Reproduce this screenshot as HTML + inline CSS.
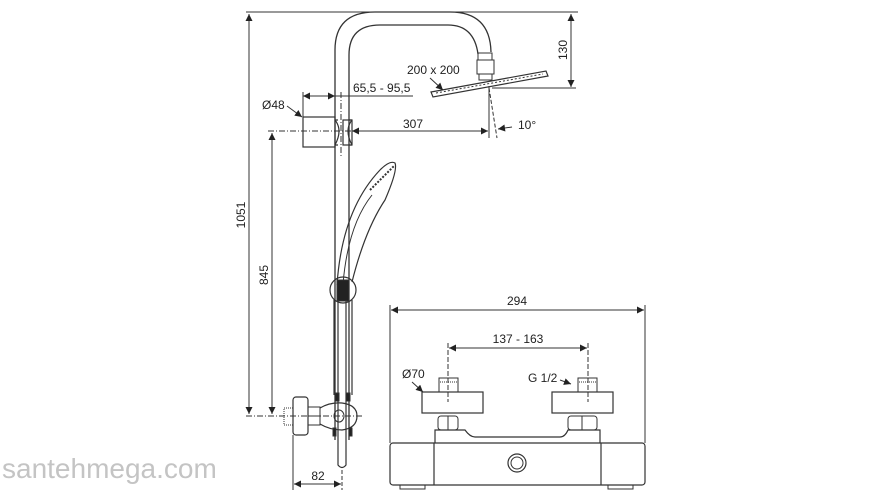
<!DOCTYPE html>
<html><head><meta charset="utf-8"><style>
html,body{margin:0;padding:0;background:#fff;}
svg{display:block;}
text{font-family:"Liberation Sans",sans-serif;fill:#222;}
</style></head><body>
<svg width="880" height="500" viewBox="0 0 880 500" xmlns="http://www.w3.org/2000/svg">
<defs>
<marker id="a" viewBox="0 0 10 10" refX="10" refY="5" markerWidth="9" markerHeight="7" orient="auto-start-reverse" markerUnits="userSpaceOnUse"><path d="M0,0L10,5L0,10z" fill="#222"/></marker>
</defs>
<g fill="none" stroke="#333" stroke-width="1">
<line x1="246" y1="12" x2="578" y2="12"/>
<line x1="249" y1="14" x2="249" y2="414" marker-start="url(#a)" marker-end="url(#a)"/>
<line x1="571" y1="14" x2="571" y2="87" marker-start="url(#a)" marker-end="url(#a)"/>
<line x1="492" y1="88" x2="576" y2="88"/>
<path d="M335,440 V50 Q335,12 375,12 H450 Q490,12 491,52" stroke-width="1.3"/>
<path d="M349,440 V55 Q349,25 380,25 H448 Q474,25 478,54" stroke-width="1.3"/>
<rect x="478" y="53" width="14" height="7"/>
<rect x="477" y="60" width="17" height="14"/>
<rect x="479" y="74" width="13" height="6"/>
<path d="M431,92 L546,71 L548,76 L433,97 Z" stroke-width="1.2"/>
<line x1="436" y1="93" x2="543" y2="74" stroke-dasharray="2 2"/>
<line x1="430" y1="78" x2="443" y2="90" marker-end="url(#a)"/>
<line x1="303" y1="96" x2="413" y2="96"/>
<line x1="303" y1="96" x2="335" y2="96" marker-start="url(#a)" marker-end="url(#a)"/>
<line x1="303" y1="92" x2="303" y2="118"/>
<line x1="287" y1="106" x2="302" y2="117" marker-end="url(#a)"/>
<rect x="303" y="117" width="32" height="30" stroke-width="1.2"/>
<path d="M335,120 Q343,130 335,145 M352,120 Q344,130 352,145 M352,120 H349 M335,120 H338 M335,145 H338 M352,145 H349" stroke-width="1.2"/>
<rect x="343" y="120" width="9" height="25" stroke-width="1.2"/>
<line x1="341" y1="92" x2="341" y2="158" stroke-dasharray="6 2 1 2"/>
<line x1="268" y1="131" x2="352" y2="131" stroke-dasharray="6 2 1 2"/>
<line x1="352" y1="131" x2="488" y2="131" marker-start="url(#a)" marker-end="url(#a)"/>
<line x1="489" y1="86" x2="489" y2="138"/>
<line x1="489" y1="88" x2="497" y2="138" stroke-dasharray="4 2"/>
<line x1="512" y1="127" x2="498" y2="129" marker-end="url(#a)"/>
<line x1="272" y1="133" x2="272" y2="414" marker-start="url(#a)" marker-end="url(#a)"/>
<path d="M337,285 Q342,210 380,170 Q390,160 395,163 Q398,170 385,200 Q365,230 352,282" stroke-width="1.2"/>
<path d="M343,284 Q348,225 372,195" />
<path d="M370,190 L394,166" stroke-dasharray="2 1.5" stroke-width="2"/>
<circle cx="343" cy="290" r="13" stroke-width="1.2"/>
<rect x="337" y="280" width="12" height="21" fill="#222"/>
<path d="M334,300 V395 M352,300 V395 M338,300 V465 Q342,470 346,465 V300" stroke-width="1.2"/>
<rect x="293" y="397" width="15" height="38" rx="3" stroke-width="1.2"/>
<rect x="284" y="408" width="9" height="17" stroke-dasharray="1 1"/>
<rect x="308" y="407" width="12" height="9"/>
<rect x="308" y="416" width="12" height="9"/>
<path d="M320,408 Q330,402 342,403 Q357,405 357,416 Q357,428 342,430 Q330,430 320,424" stroke-width="1.2"/>
<ellipse cx="339" cy="416" rx="5" ry="6"/>
<rect x="335" y="393" width="4" height="8" fill="#222"/>
<rect x="346" y="393" width="4" height="8" fill="#222"/>
<rect x="333" y="428" width="3" height="8" fill="#222"/>
<rect x="349" y="428" width="3" height="8" fill="#222"/>
<line x1="246" y1="416" x2="362" y2="416" stroke-dasharray="6 2 1 2"/>
<line x1="293" y1="435" x2="293" y2="490"/>
<line x1="342" y1="470" x2="342" y2="490" stroke-dasharray="4 2"/>
<line x1="294" y1="484" x2="341" y2="484" marker-start="url(#a)" marker-end="url(#a)"/>
<line x1="390" y1="305" x2="390" y2="443"/>
<line x1="645" y1="305" x2="645" y2="443"/>
<line x1="391" y1="310" x2="644" y2="310" marker-start="url(#a)" marker-end="url(#a)"/>
<line x1="448" y1="343" x2="448" y2="402" stroke-dasharray="5 2"/>
<line x1="588" y1="343" x2="588" y2="402" stroke-dasharray="5 2"/>
<line x1="449" y1="348" x2="587" y2="348" marker-start="url(#a)" marker-end="url(#a)"/>
<line x1="412" y1="382" x2="423" y2="392" marker-end="url(#a)"/>
<line x1="560" y1="380" x2="571" y2="384" marker-end="url(#a)"/>
<rect x="422" y="392" width="61" height="21" stroke-width="1.2"/>
<rect x="552" y="392" width="61" height="21" stroke-width="1.2"/>
<rect x="439" y="378" width="19" height="14"/>
<rect x="578" y="378" width="19" height="14"/>
<line x1="440" y1="382" x2="457" y2="382" stroke-dasharray="1 1"/>
<line x1="579" y1="382" x2="596" y2="382" stroke-dasharray="1 1"/>
<rect x="438" y="416" width="20" height="14" rx="3"/>
<rect x="568" y="416" width="29" height="14" rx="3"/>
<line x1="448" y1="416" x2="448" y2="430"/>
<line x1="582" y1="416" x2="582" y2="430"/>
<path d="M435,443 V430 H465 Q470,437 475,437 H560 Q565,437 568,430 H600 V443" stroke-width="1.2"/>
<rect x="390" y="443" width="255" height="42" rx="3" stroke-width="1.2"/>
<line x1="434" y1="443" x2="434" y2="485" stroke-width="1.2"/>
<line x1="601" y1="443" x2="601" y2="485" stroke-width="1.2"/>
<rect x="400" y="485" width="25" height="4"/>
<rect x="608" y="485" width="25" height="4"/>
<circle cx="517" cy="463" r="9" stroke-width="1.2"/>
<circle cx="517" cy="463" r="6"/>
</g>
<g font-size="12">
<text x="245" y="215" transform="rotate(-90 245 215)" text-anchor="middle">1051</text>
<text x="567" y="50" transform="rotate(-90 567 50)" text-anchor="middle">130</text>
<text x="268" y="275" transform="rotate(-90 268 275)" text-anchor="middle">845</text>
<text x="407" y="74">200 x 200</text>
<text x="353" y="92">65,5 - 95,5</text>
<text x="262" y="109">Ø48</text>
<text x="403" y="128">307</text>
<text x="518" y="129">10°</text>
<text x="318" y="480" text-anchor="middle">82</text>
<text x="517" y="305" text-anchor="middle">294</text>
<text x="518" y="343" text-anchor="middle">137 - 163</text>
<text x="402" y="378">Ø70</text>
<text x="528" y="382">G 1/2</text>
</g>
<text x="2" y="478" font-size="28" style="fill:#c4c4c4">santehmega.com</text>
</svg>
</body></html>
